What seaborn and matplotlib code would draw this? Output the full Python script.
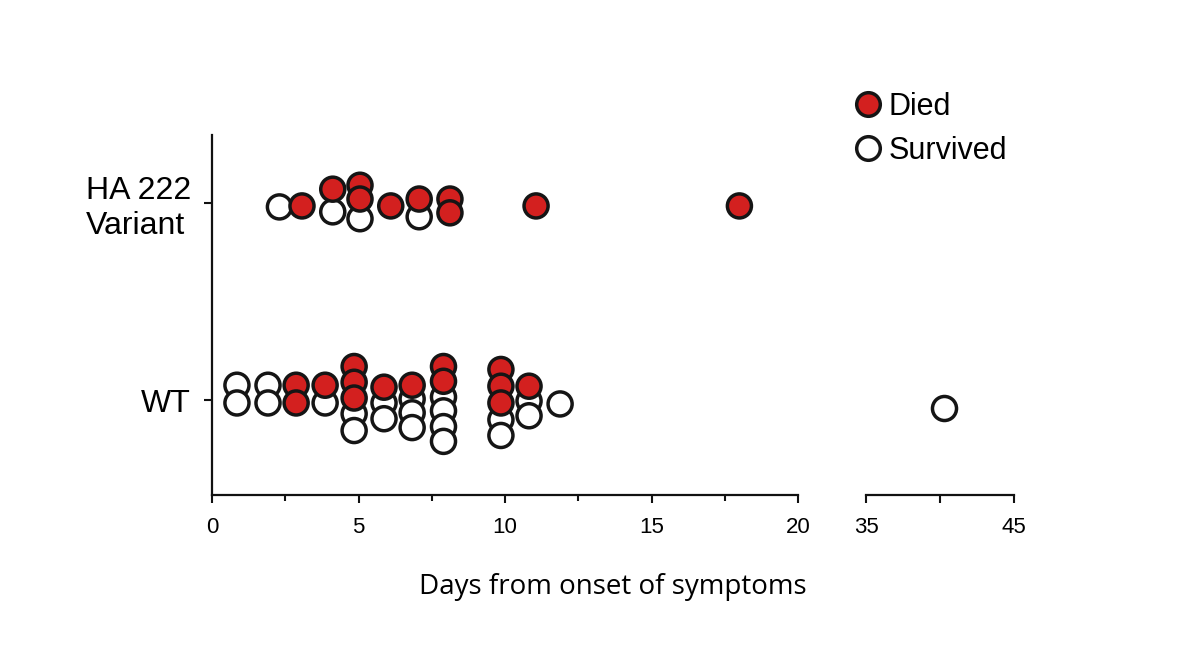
import seaborn as sns
import matplotlib.pyplot as plt
import pandas
from matplotlib.lines import Line2D

# HA 222 variant: day, outcome, small vertical shift (row units)
ha_day = [2.3, 3.07, 4.12, 4.12, 5.05, 5.05, 5.05, 6.1, 7.07, 7.07, 8.12, 8.12, 11.06, 18.0]
ha_outcome = ['Survived', 'Died', 'Died', 'Survived', 'Died', 'Died', 'Survived',
              'Died', 'Died', 'Survived', 'Died', 'Died', 'Died', 'Died']
ha_shift = [-0.02, -0.015, 0.07, -0.045, 0.09, 0.02, -0.08,
            -0.015, 0.02, -0.07, 0.02, -0.05, -0.015, -0.015]

# WT
wt_day = [0.85, 0.85, 1.91, 1.91, 2.87, 2.87, 3.86, 3.86,
          4.85, 4.85, 4.85, 4.85, 4.85,
          5.87, 5.87, 5.87,
          6.83, 6.83, 6.83, 6.83,
          7.9, 7.9, 7.9, 7.9, 7.9, 7.9,
          9.86, 9.86, 9.86, 9.86, 9.86,
          10.82, 10.82, 10.82,
          11.88, 40.3]
wt_outcome = ['Survived', 'Survived', 'Survived', 'Survived', 'Died', 'Died', 'Died', 'Survived',
              'Died', 'Died', 'Died', 'Survived', 'Survived',
              'Died', 'Survived', 'Survived',
              'Died', 'Survived', 'Survived', 'Survived',
              'Died', 'Died', 'Survived', 'Survived', 'Survived', 'Survived',
              'Died', 'Died', 'Died', 'Survived', 'Survived',
              'Died', 'Survived', 'Survived',
              'Survived', 'Survived']
wt_shift = [0.075, -0.015, 0.075, -0.015, 0.075, -0.015, 0.075, -0.015,
            0.17, 0.09, 0.01, -0.07, -0.155,
            0.065, -0.015, -0.095,
            0.075, 0.005, -0.065, -0.14,
            0.17, 0.095, 0.015, -0.055, -0.135, -0.21,
            0.155, 0.07, -0.015, -0.10, -0.18,
            0.07, -0.005, -0.08,
            -0.02, -0.04]

grupos = ['WT', 'HA 222\nVariant']
colores = {'Died': '#D3201F', 'Survived': 'white'}

df = pandas.concat([
    pandas.DataFrame({'day': ha_day, 'outcome': ha_outcome, 'pos': [1 + s for s in ha_shift]}),
    pandas.DataFrame({'day': wt_day, 'outcome': wt_outcome, 'pos': [0 + s for s in wt_shift]}),
])
# abiertos primero, rojos encima
df = df.sort_values('outcome', ascending=False, kind='stable')

sns.set_style('ticks')
plt.rcParams['font.family'] = ['Liberation Sans', 'DejaVu Sans']
plt.rcParams['text.color'] = 'black'
plt.rcParams['xtick.color'] = '#111111'
plt.rcParams['ytick.color'] = '#111111'
plt.rcParams['xtick.labelcolor'] = 'black'
plt.rcParams['ytick.labelcolor'] = 'black'

fig = plt.figure(figsize=(12, 6.66), dpi=100)
ax1 = fig.add_axes([0.1767, 0.2568, 0.4883, 0.5405])
ax2 = fig.add_axes([0.7217, 0.2568, 0.1233, 0.5405])

for ax, datos in [(ax1, df[df['day'] <= 20]), (ax2, df[df['day'] > 20])]:
    sns.scatterplot(data=datos, x='day', y='pos', hue='outcome', palette=colores,
                    s=300, edgecolor='#151515', linewidth=2.5, legend=False, ax=ax, zorder=3)
    ax.set_ylim(-0.482, 1.345)
    ax.set_xlabel('')
    ax.set_ylabel('')
    for side in ['top', 'right']:
        ax.spines[side].set_visible(False)
    ax.spines['bottom'].set_linewidth(1.6)
    ax.spines['bottom'].set_color('#111111')
    ax.tick_params(axis='x', bottom=True, direction='out', length=6, width=1.5, pad=10,
                   labelsize=16)

ax1.set_xlim(0, 20)
ax1.set_xticks([0, 5, 10, 15, 20])
ax1.set_xticks([2.5, 7.5, 12.5, 17.5], minor=True)
ax1.tick_params(axis='x', which='minor', bottom=True, direction='out', length=4, width=1.5)
ax1.spines['left'].set_linewidth(1.6)
ax1.spines['left'].set_color('#111111')
ax1.set_yticks([0, 1])
ax1.set_yticklabels(grupos, fontsize=23)
ax1.get_yticklabels()[1].set_multialignment('left')
ax1.tick_params(axis='y', left=True, direction='out', length=6, width=1.5, pad=9)

ax2.set_xlim(35, 45)
ax2.set_xticks([35, 40, 45])
ax2.set_xticklabels(['35', '', '45'])
ax2.spines['left'].set_visible(False)
ax2.set_yticks([])

fig.text(0.511, 0.119, 'Days from onset of symptoms', ha='center', va='center',
         fontsize=20, family=['Open Sans', 'DejaVu Sans'])

handles = [Line2D([], [], marker='o', linestyle='', markersize=17, markerfacecolor=colores[k],
                  markeredgecolor='#151515', markeredgewidth=2.5) for k in ['Died', 'Survived']]
fig.legend(handles, ['Died', 'Survived'], loc='upper left', bbox_to_anchor=(0.688, 0.9035),
           frameon=False, fontsize=22, handlelength=1.0, handletextpad=0.15, labelspacing=0.45)

plt.savefig('out.png', dpi=100)
